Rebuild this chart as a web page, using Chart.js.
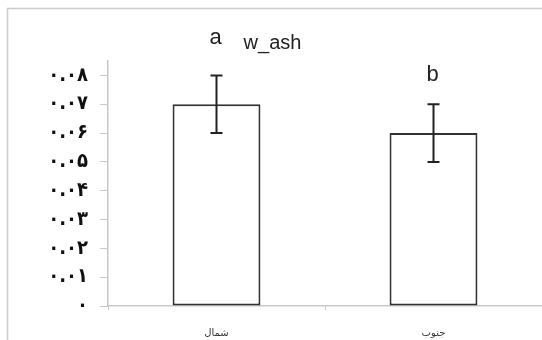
<!DOCTYPE html>
<html>
<head>
<meta charset="utf-8">
<script src="https://cdn.jsdelivr.net/npm/chart.js@4"></script>
<style>
  html, body { margin: 0; padding: 0; background: #fff; }
  #wrap { width: 542px; height: 340px; }
</style>
</head>
<body>
<div id="wrap"><canvas id="ashChart" width="542" height="340"></canvas></div>
<script>
// data
const regions = ['شمال', 'جنوب'];
const ashMeans = [0.07, 0.06];
const ashErrors = [0.01, 0.01];
const groupLetters = ['a', 'b'];
const yTicks = [0, 0.01, 0.02, 0.03, 0.04, 0.05, 0.06, 0.07, 0.08];
const persianDigits = '۰۱۲۳۴۵۶۷۸۹';

function toPersian(str) {
    return str.replace(/[0-9]/g, d => persianDigits[+d]);
}

// light frame round the chart (only top and left edges show in the original)
const framePlugin = {
    id: 'frame',
    beforeDraw(chart) {
        const ctx = chart.ctx;
        ctx.save();
        ctx.strokeStyle = '#cccccc';
        ctx.lineWidth = 1.5;
        ctx.beginPath();
        ctx.moveTo(7.5, chart.height);
        ctx.lineTo(7.5, 8.5);
        ctx.lineTo(chart.width, 8.5);
        ctx.stroke();
        ctx.restore();
    }
};

// error bars and significance letters
const errorBarPlugin = {
    id: 'errorBars',
    afterDatasetsDraw(chart) {
        const ctx = chart.ctx;
        const yScale = chart.scales.y;
        const meta = chart.getDatasetMeta(0);
        const letterLift = [31, 23];
        ctx.save();
        ctx.strokeStyle = '#222';
        ctx.lineWidth = 2;
        meta.data.forEach((bar, i) => {
            const top = yScale.getPixelForValue(ashMeans[i] + ashErrors[i]);
            const bottom = yScale.getPixelForValue(ashMeans[i] - ashErrors[i]);
            ctx.beginPath();
            ctx.moveTo(bar.x, top);
            ctx.lineTo(bar.x, bottom);
            ctx.moveTo(bar.x - 6, top);
            ctx.lineTo(bar.x + 6, top);
            ctx.moveTo(bar.x - 6, bottom);
            ctx.lineTo(bar.x + 6, bottom);
            ctx.stroke();

            ctx.fillStyle = '#222';
            ctx.font = '22px "Liberation Sans", Arial, sans-serif';
            ctx.textAlign = 'center';
            ctx.textBaseline = 'alphabetic';
            ctx.fillText(groupLetters[i], bar.x - 1, top - letterLift[i]);
        });
        ctx.restore();
    }
};

const ctx = document.getElementById('ashChart').getContext('2d');
const ashChart = new Chart(ctx, {
    type: 'bar',
    data: {
        labels: regions,
        datasets: [{
            label: 'w_ash',
            data: ashMeans,
            backgroundColor: '#ffffff',
            borderColor: '#333333',
            borderWidth: 2,
            borderSkipped: false,
            categoryPercentage: 1,
            barPercentage: 0.405
        }]
    },
    options: {
        responsive: false,
        animation: false,
        layout: {
            padding: { left: 0, right: -3, top: 0, bottom: 0 }
        },
        plugins: {
            legend: { display: false },
            tooltip: { enabled: false },
            title: {
                display: true,
                text: 'w_ash',
                color: '#222',
                font: { family: '"Liberation Sans", Arial, sans-serif', size: 20, weight: 'normal' },
                padding: { top: 31, bottom: 6 }
            }
        },
        scales: {
            x: {
                afterFit(scale) {
                    scale.height = 34;
                },
                grid: {
                    offset: true,
                    drawOnChartArea: false,
                    tickLength: 4,
                    color: '#c8c8c8'
                },
                border: { color: '#c8c8c8', width: 1.5 },
                ticks: {
                    color: '#333',
                    padding: 17,
                    font: { family: '"DejaVu Sans", sans-serif', size: 10 }
                }
            },
            y: {
                min: 0,
                max: 0.085,
                afterBuildTicks(scale) {
                    scale.ticks = yTicks.map(v => ({ value: v }));
                },
                afterFit(scale) {
                    scale.width = 108;
                },
                grid: {
                    drawOnChartArea: false,
                    tickLength: 8,
                    color: '#c8c8c8'
                },
                border: { color: '#c8c8c8', width: 1.5 },
                ticks: {
                    padding: 12,
                    color: '#111',
                    font: { family: '"DejaVu Sans Condensed", "DejaVu Sans", sans-serif', size: 20, weight: 'bold' },
                    callback: v => v === 0 ? toPersian('0') : toPersian(v.toFixed(2))
                }
            }
        }
    },
    plugins: [framePlugin, errorBarPlugin]
});
</script>
</body>
</html>
